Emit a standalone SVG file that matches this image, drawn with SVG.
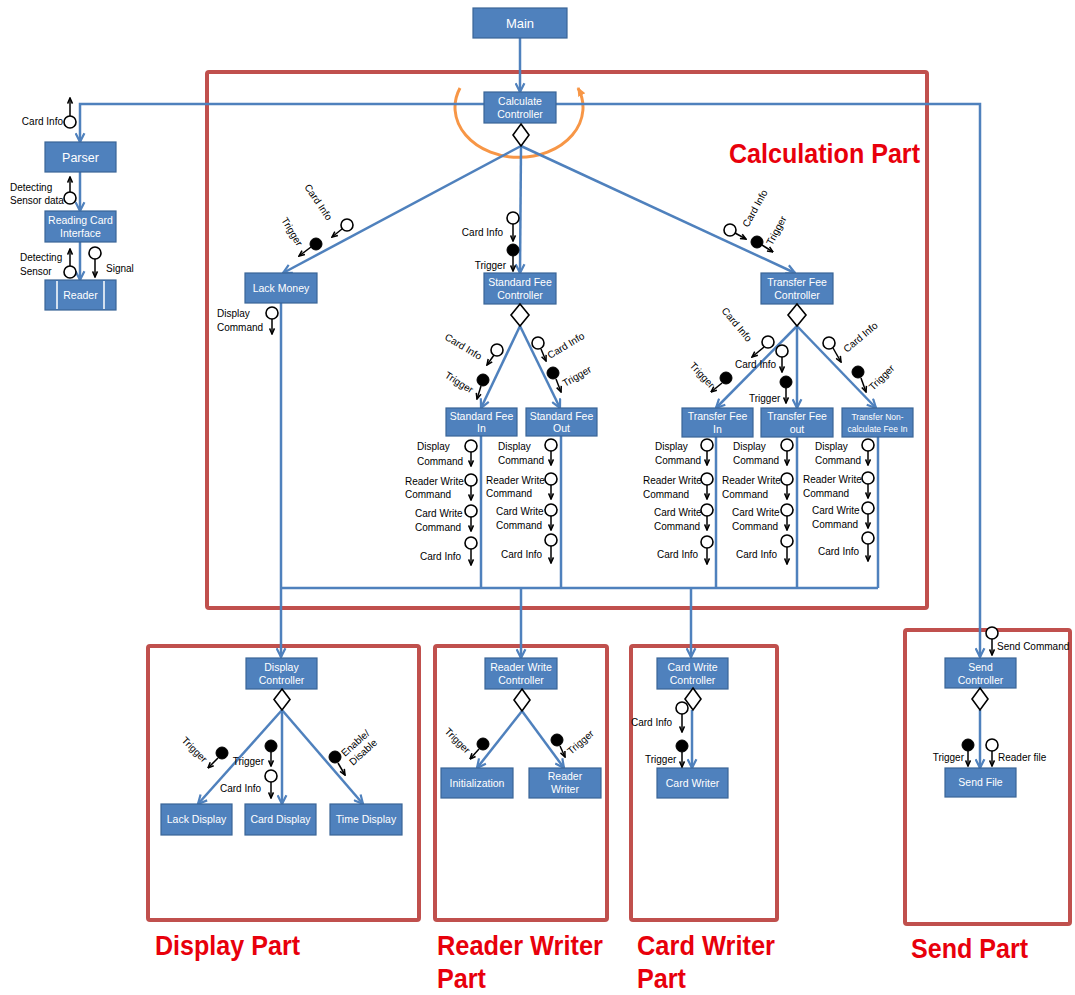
<svg xmlns="http://www.w3.org/2000/svg" width="1075" height="995" viewBox="0 0 1075 995">
  <defs>
    <marker id="ba" viewBox="0 0 10 10" refX="9" refY="5" markerWidth="11" markerHeight="11" markerUnits="userSpaceOnUse" orient="auto">
      <path d="M1,1 L9,5 L1,9" fill="none" stroke="#4F81BD" stroke-width="2"/>
    </marker>
    <marker id="ka" viewBox="0 0 10 10" refX="9" refY="5" markerWidth="7" markerHeight="7" markerUnits="userSpaceOnUse" orient="auto">
      <path d="M1,1.5 L9,5 L1,8.5" fill="none" stroke="#000" stroke-width="2.2"/>
    </marker>
    <marker id="oa" viewBox="0 0 10 10" refX="8" refY="5" markerWidth="10" markerHeight="10" markerUnits="userSpaceOnUse" orient="auto">
      <path d="M0,1 L9,5 L0,9 Z" fill="#F79646"/>
    </marker>
  </defs>
  <style>
    text { font-family: "Liberation Sans", Arial, sans-serif; }
    .node rect { fill: #4F81BD; stroke: #3A6597; stroke-width: 1.2; }
    .nt { fill: #fff; font-size: 10.5px; text-anchor: middle; }
    .lbl { fill: #000; font-size: 10px; }
    .end { text-anchor: end; }
    .flow { fill: none; stroke: #4F81BD; stroke-width: 2.5; }
    .arr { marker-end: url(#ba); }
    .msg { fill: none; stroke: #000; stroke-width: 1.5; marker-end: url(#ka); }
    .oc { fill: #fff; stroke: #000; stroke-width: 1.6; }
    .fc { fill: #000; stroke: #000; stroke-width: 1; }
    .dia { fill: #fff; stroke: #000; stroke-width: 1.6; }
    .part { fill: none; stroke: #C0504D; stroke-width: 4; }
    .ptitle { fill: #E8000B; font-size: 28px; font-weight: bold; }
  </style>
  <rect width="1075" height="995" fill="#fff"/>

  <!-- part frames -->
  <g id="parts">
    <rect class="part" x="207" y="72" width="720" height="536" rx="2"/>
    <rect class="part" x="148" y="646" width="271" height="274" rx="2"/>
    <rect class="part" x="435" y="646" width="172" height="274" rx="2"/>
    <rect class="part" x="631" y="646" width="146" height="274" rx="2"/>
    <rect class="part" x="905" y="630" width="165" height="294" rx="2"/>
    <text class="ptitle" x="729" y="163" textLength="191" lengthAdjust="spacingAndGlyphs">Calculation Part</text>
    <text class="ptitle" x="155" y="955" textLength="145" lengthAdjust="spacingAndGlyphs">Display Part</text>
    <text class="ptitle" x="437" y="955" textLength="166" lengthAdjust="spacingAndGlyphs">Reader Writer</text>
    <text class="ptitle" x="437" y="988" textLength="49" lengthAdjust="spacingAndGlyphs">Part</text>
    <text class="ptitle" x="637" y="955" textLength="138" lengthAdjust="spacingAndGlyphs">Card Writer</text>
    <text class="ptitle" x="637" y="988" textLength="49" lengthAdjust="spacingAndGlyphs">Part</text>
    <text class="ptitle" x="911" y="958" textLength="117" lengthAdjust="spacingAndGlyphs">Send Part</text>
  </g>

  <!-- loop around the calculate controller -->
  <path d="M460,88 A64 50 0 1 0 578,88" fill="none" stroke="#F79646" stroke-width="3" marker-end="url(#oa)"/>

  <!-- connectors -->
  <g id="connectors">
    <path class="flow arr" d="M520,38 V92"/>
    <path class="flow arr" d="M484,104 H80 V142"/>
    <path class="flow arr" d="M556,104 H980 V657"/>
    <path class="flow arr" d="M521,146 L283,273"/>
    <path class="flow arr" d="M521,146 L520,273"/>
    <path class="flow arr" d="M521,146 L795,273"/>
    <path class="flow arr" d="M80,172 V211"/>
    <path class="flow arr" d="M80,242 V280"/>
    <path class="flow arr" d="M520,326 L481,408"/>
    <path class="flow arr" d="M520,326 L560,408"/>
    <path class="flow arr" d="M797,326 L716,408"/>
    <path class="flow arr" d="M797,326 L797,408"/>
    <path class="flow arr" d="M797,326 L876,408"/>
    <path class="flow arr" d="M281,303 V657"/>
    <path class="flow" d="M481,436 V588 M561,436 V588 M716,437 V588 M797,437 V588 M878,437 V588"/>
    <path class="flow" d="M281,588 H878"/>
    <path class="flow arr" d="M521,588 V658"/>
    <path class="flow arr" d="M691,588 V657"/>
    <path class="flow arr" d="M282,710 L198,804"/>
    <path class="flow arr" d="M282,710 L282,804"/>
    <path class="flow arr" d="M282,710 L363,804"/>
    <path class="flow arr" d="M522,711 L477,768"/>
    <path class="flow arr" d="M522,711 L564,768"/>
    <path class="flow arr" d="M692,710 V768"/>
    <path class="flow arr" d="M980,710 V768"/>
  </g>

  <!-- nodes -->
  <g id="main" class="node"><rect x="473" y="8" width="94" height="30"/><text class="nt" x="520" y="28" style="font-size:13px">Main</text></g>
  <g id="calculate-controller" class="node"><rect x="484" y="92" width="72" height="31"/><text class="nt" x="520" y="105">Calculate</text><text class="nt" x="520" y="118">Controller</text></g>
  <g id="parser" class="node"><rect x="45" y="142" width="71" height="30"/><text class="nt" x="80.5" y="162" style="font-size:12.5px">Parser</text></g>
  <g id="reading-card-interface" class="node"><rect x="45" y="211" width="71" height="31"/><text class="nt" x="80.5" y="224">Reading Card</text><text class="nt" x="80.5" y="237">Interface</text></g>
  <g id="reader" class="node"><rect x="45" y="280" width="71" height="30"/><path d="M57,281 V309 M104,281 V309" stroke="#fff" stroke-width="1.5"/><text class="nt" x="80.5" y="299">Reader</text></g>
  <g id="lack-money" class="node"><rect x="245" y="273" width="72" height="30"/><text class="nt" x="281" y="292">Lack Money</text></g>
  <g id="standard-fee-controller" class="node"><rect x="484" y="273" width="72" height="31"/><text class="nt" x="520" y="286">Standard Fee</text><text class="nt" x="520" y="299">Controller</text></g>
  <g id="transfer-fee-controller" class="node"><rect x="761" y="273" width="72" height="31"/><text class="nt" x="797" y="286">Transfer Fee</text><text class="nt" x="797" y="299">Controller</text></g>
  <g id="standard-fee-in" class="node"><rect x="446" y="408" width="71" height="28"/><text class="nt" x="481.5" y="420">Standard Fee</text><text class="nt" x="481.5" y="432">In</text></g>
  <g id="standard-fee-out" class="node"><rect x="526" y="408" width="71" height="28"/><text class="nt" x="561.5" y="420">Standard Fee</text><text class="nt" x="561.5" y="432">Out</text></g>
  <g id="transfer-fee-in" class="node"><rect x="682" y="408" width="71" height="29"/><text class="nt" x="717.5" y="420">Transfer Fee</text><text class="nt" x="717.5" y="433">In</text></g>
  <g id="transfer-fee-out" class="node"><rect x="761" y="408" width="72" height="29"/><text class="nt" x="797" y="420">Transfer Fee</text><text class="nt" x="797" y="433">out</text></g>
  <g id="transfer-non-calculate-fee-in" class="node"><rect x="842" y="408" width="71" height="29"/><text class="nt" x="877.5" y="420" style="font-size:8.5px">Transfer Non-</text><text class="nt" x="877.5" y="432" style="font-size:8.5px">calculate Fee In</text></g>

  <g id="display-controller" class="node"><rect x="246" y="658" width="71" height="31"/><text class="nt" x="281.5" y="671">Display</text><text class="nt" x="281.5" y="684">Controller</text></g>
  <g id="lack-display" class="node"><rect x="161" y="804" width="71" height="31"/><text class="nt" x="196.5" y="823">Lack Display</text></g>
  <g id="card-display" class="node"><rect x="245" y="804" width="71" height="31"/><text class="nt" x="280.5" y="823">Card Display</text></g>
  <g id="time-display" class="node"><rect x="330" y="804" width="72" height="31"/><text class="nt" x="366" y="823">Time Display</text></g>
  <g id="reader-write-controller" class="node"><rect x="485" y="658" width="72" height="31"/><text class="nt" x="521" y="671">Reader Write</text><text class="nt" x="521" y="684">Controller</text></g>
  <g id="initialization" class="node"><rect x="441" y="768" width="72" height="30"/><text class="nt" x="477" y="787">Initialization</text></g>
  <g id="reader-writer" class="node"><rect x="529" y="768" width="72" height="30"/><text class="nt" x="565" y="780">Reader</text><text class="nt" x="565" y="793">Writer</text></g>
  <g id="card-write-controller" class="node"><rect x="657" y="658" width="71" height="31"/><text class="nt" x="692.5" y="671">Card Write</text><text class="nt" x="692.5" y="684">Controller</text></g>
  <g id="card-writer" class="node"><rect x="657" y="768" width="71" height="30"/><text class="nt" x="692.5" y="787">Card Writer</text></g>
  <g id="send-controller" class="node"><rect x="945" y="658" width="71" height="30"/><text class="nt" x="980.5" y="671">Send</text><text class="nt" x="980.5" y="684">Controller</text></g>
  <g id="send-file" class="node"><rect x="945" y="768" width="71" height="29"/><text class="nt" x="980.5" y="786">Send File</text></g>

  <!-- branch diamonds -->
  <g id="diamonds">
    <path class="dia" d="M521,124 L529,135 L521,146 L513,135 Z"/>
    <path class="dia" d="M520,304 L529,315 L520,326 L511,315 Z"/>
    <path class="dia" d="M797,304 L806,315 L797,326 L788,315 Z"/>
    <path class="dia" d="M282,689 L290,699.5 L282,710 L274,699.5 Z"/>
    <path class="dia" d="M522,689 L530,700 L522,711 L514,700 Z"/>
    <path class="dia" d="M693,688 L701,699 L693,710 L685,699 Z"/>
    <path class="dia" d="M980,688 L988,699 L980,710 L972,699 Z"/>
  </g>

  <!-- data flows (lollipops) -->
  <g id="messages">
    <!-- reader side -->
    <circle class="oc" cx="70" cy="122" r="6"/><path class="msg" d="M70,116 V98"/>
    <text class="lbl end" x="63" y="125">Card Info</text>
    <circle class="oc" cx="70" cy="198" r="6"/><path class="msg" d="M70,192 V177"/>
    <text class="lbl" x="10" y="191">Detecting</text><text class="lbl" x="10" y="204">Sensor data</text>
    <circle class="oc" cx="70" cy="272" r="6"/><path class="msg" d="M70,266 V249"/>
    <text class="lbl" x="20" y="261">Detecting</text><text class="lbl" x="20" y="275">Sensor</text>
    <circle class="oc" cx="95" cy="253" r="6"/><path class="msg" d="M95,259 V277"/>
    <text class="lbl" x="106" y="272">Signal</text>

    <!-- calculate controller fan-out -->
    <circle class="oc" cx="347" cy="225" r="6"/><path class="msg" d="M342,229 L332,237"/>
    <text class="lbl" transform="translate(304,187) rotate(56)">Card Info</text>
    <circle class="fc" cx="316" cy="244" r="6"/><path class="msg" d="M311,247 L299,256"/>
    <text class="lbl" transform="translate(281,220) rotate(59)">Trigger</text>

    <circle class="oc" cx="513" cy="218" r="6"/><path class="msg" d="M513,224 V241"/>
    <text class="lbl end" x="503" y="236">Card Info</text>
    <circle class="fc" cx="513" cy="250" r="6"/><path class="msg" d="M513,256 V271"/>
    <text class="lbl end" x="506" y="269">Trigger</text>

    <circle class="oc" cx="730" cy="230" r="6"/><path class="msg" d="M735,233 L746,239"/>
    <text class="lbl" transform="translate(748,228) rotate(-61)">Card Info</text>
    <circle class="fc" cx="757" cy="242" r="6"/><path class="msg" d="M762,245 L773,252"/>
    <text class="lbl" transform="translate(772,246) rotate(-62)">Trigger</text>

    <!-- lack money -->
    <circle class="oc" cx="272" cy="313" r="6"/><path class="msg" d="M272,319 V334"/>
    <text class="lbl" x="217" y="317">Display</text><text class="lbl" x="217" y="331">Command</text>

    <!-- standard fee controller -->
    <circle class="oc" cx="497" cy="350" r="6"/><path class="msg" d="M494,355 L487,365"/>
    <text class="lbl" transform="translate(444,339) rotate(31)">Card Info</text>
    <circle class="fc" cx="483" cy="380" r="6"/><path class="msg" d="M481,386 L477,399"/>
    <text class="lbl" transform="translate(444,377) rotate(32)">Trigger</text>
    <circle class="oc" cx="538" cy="343" r="6"/><path class="msg" d="M541,349 L546,361"/>
    <text class="lbl" transform="translate(550,359) rotate(-31)">Card Info</text>
    <circle class="fc" cx="553" cy="373" r="6"/><path class="msg" d="M556,379 L561,392"/>
    <text class="lbl" transform="translate(565,387) rotate(-30)">Trigger</text>

    <!-- transfer fee controller -->
    <circle class="oc" cx="768" cy="342" r="6"/><path class="msg" d="M764,347 L752,357"/>
    <text class="lbl" transform="translate(721,311) rotate(50)">Card Info</text>
    <circle class="fc" cx="726" cy="378" r="6"/><path class="msg" d="M722,383 L711,392"/>
    <text class="lbl" transform="translate(689,366) rotate(47)">Trigger</text>
    <circle class="oc" cx="782" cy="351" r="6"/><path class="msg" d="M782,357 V372"/>
    <text class="lbl" x="735" y="368">Card Info</text>
    <circle class="fc" cx="786" cy="382" r="6"/><path class="msg" d="M786,388 V403"/>
    <text class="lbl" x="749" y="402">Trigger</text>
    <circle class="oc" cx="829" cy="343" r="6"/><path class="msg" d="M833,348 L841,362"/>
    <text class="lbl" transform="translate(847,353) rotate(-40)">Card Info</text>
    <circle class="fc" cx="858" cy="372" r="6"/><path class="msg" d="M861,378 L866,392"/>
    <text class="lbl" transform="translate(873,391) rotate(-45)">Trigger</text>

    <!-- standard fee in -->
    <circle class="oc" cx="471" cy="446" r="6"/><path class="msg" d="M471,452 V466"/>
    <circle class="oc" cx="471" cy="480" r="6"/><path class="msg" d="M471,486 V500"/>
    <circle class="oc" cx="471" cy="511" r="6"/><path class="msg" d="M471,517 V531"/>
    <circle class="oc" cx="471" cy="543" r="6"/><path class="msg" d="M471,549 V565"/>
    <text class="lbl" x="417" y="450">Display</text><text class="lbl" x="417" y="465">Command</text>
    <text class="lbl" x="405" y="485">Reader Write</text><text class="lbl" x="405" y="498">Command</text>
    <text class="lbl" x="415" y="517">Card Write</text><text class="lbl" x="415" y="531">Command</text>
    <text class="lbl" x="420" y="560">Card Info</text>

    <!-- standard fee out -->
    <circle class="oc" cx="551" cy="445" r="6"/><path class="msg" d="M551,451 V465"/>
    <circle class="oc" cx="551" cy="479" r="6"/><path class="msg" d="M551,485 V499"/>
    <circle class="oc" cx="551" cy="510" r="6"/><path class="msg" d="M551,516 V530"/>
    <circle class="oc" cx="551" cy="540" r="6"/><path class="msg" d="M551,546 V563"/>
    <text class="lbl" x="498" y="450">Display</text><text class="lbl" x="498" y="464">Command</text>
    <text class="lbl" x="486" y="484">Reader Write</text><text class="lbl" x="486" y="497">Command</text>
    <text class="lbl" x="496" y="515">Card Write</text><text class="lbl" x="496" y="529">Command</text>
    <text class="lbl" x="501" y="558">Card Info</text>

    <!-- transfer fee in -->
    <circle class="oc" cx="707" cy="445" r="6"/><path class="msg" d="M707,451 V465"/>
    <circle class="oc" cx="707" cy="479" r="6"/><path class="msg" d="M707,485 V499"/>
    <circle class="oc" cx="707" cy="510" r="6"/><path class="msg" d="M707,516 V530"/>
    <circle class="oc" cx="707" cy="542" r="6"/><path class="msg" d="M707,548 V564"/>
    <text class="lbl" x="655" y="450">Display</text><text class="lbl" x="655" y="464">Command</text>
    <text class="lbl" x="643" y="484">Reader Write</text><text class="lbl" x="643" y="498">Command</text>
    <text class="lbl" x="654" y="516">Card Write</text><text class="lbl" x="654" y="530">Command</text>
    <text class="lbl" x="657" y="558">Card Info</text>

    <!-- transfer fee out -->
    <circle class="oc" cx="787" cy="445" r="6"/><path class="msg" d="M787,451 V465"/>
    <circle class="oc" cx="787" cy="479" r="6"/><path class="msg" d="M787,485 V499"/>
    <circle class="oc" cx="787" cy="510" r="6"/><path class="msg" d="M787,516 V530"/>
    <circle class="oc" cx="787" cy="541" r="6"/><path class="msg" d="M787,547 V564"/>
    <text class="lbl" x="733" y="450">Display</text><text class="lbl" x="733" y="464">Command</text>
    <text class="lbl" x="722" y="484">Reader Write</text><text class="lbl" x="722" y="498">Command</text>
    <text class="lbl" x="732" y="516">Card Write</text><text class="lbl" x="732" y="530">Command</text>
    <text class="lbl" x="736" y="558">Card Info</text>

    <!-- transfer non-calculate fee in -->
    <circle class="oc" cx="868" cy="445" r="6"/><path class="msg" d="M868,451 V465"/>
    <circle class="oc" cx="868" cy="478" r="6"/><path class="msg" d="M868,484 V498"/>
    <circle class="oc" cx="868" cy="508" r="6"/><path class="msg" d="M868,514 V528"/>
    <circle class="oc" cx="868" cy="538" r="6"/><path class="msg" d="M868,544 V561"/>
    <text class="lbl" x="815" y="450">Display</text><text class="lbl" x="815" y="464">Command</text>
    <text class="lbl" x="803" y="483">Reader Write</text><text class="lbl" x="803" y="497">Command</text>
    <text class="lbl" x="812" y="514">Card Write</text><text class="lbl" x="812" y="528">Command</text>
    <text class="lbl" x="818" y="555">Card Info</text>

    <!-- display part -->
    <circle class="fc" cx="222" cy="753" r="6"/><path class="msg" d="M218,758 L208,768"/>
    <text class="lbl" transform="translate(181,741) rotate(45)">Trigger</text>
    <circle class="fc" cx="271" cy="746" r="6"/><path class="msg" d="M271,752 V766"/>
    <text class="lbl end" x="264" y="765">Trigger</text>
    <circle class="oc" cx="271" cy="776" r="6"/><path class="msg" d="M271,782 V798"/>
    <text class="lbl" x="220" y="792">Card Info</text>
    <circle class="fc" cx="335" cy="757" r="6"/><path class="msg" d="M338,763 L345,775"/>
    <g transform="translate(345,757) rotate(-42)"><text class="lbl" x="0" y="0">Enable/</text><text class="lbl" x="0" y="12">Disable</text></g>

    <!-- reader writer part -->
    <circle class="fc" cx="483" cy="744" r="6"/><path class="msg" d="M479,749 L470,759"/>
    <text class="lbl" transform="translate(444,732) rotate(45)">Trigger</text>
    <circle class="fc" cx="557" cy="740" r="6"/><path class="msg" d="M560,746 L565,757"/>
    <text class="lbl" transform="translate(571,755) rotate(-41)">Trigger</text>

    <!-- card writer part -->
    <circle class="oc" cx="682" cy="708" r="6"/><path class="msg" d="M682,714 V732"/>
    <text class="lbl" x="631" y="726">Card Info</text>
    <circle class="fc" cx="682" cy="746" r="6"/><path class="msg" d="M682,752 V767"/>
    <text class="lbl" x="645" y="763">Trigger</text>

    <!-- send part -->
    <circle class="oc" cx="992" cy="633" r="6"/><path class="msg" d="M992,639 V655"/>
    <text class="lbl" x="997" y="650">Send Command</text>
    <circle class="fc" cx="968" cy="745" r="6"/><path class="msg" d="M968,751 V766"/>
    <text class="lbl end" x="964" y="761">Trigger</text>
    <circle class="oc" cx="992" cy="745" r="6"/><path class="msg" d="M992,751 V766"/>
    <text class="lbl" x="998" y="761">Reader file</text>
  </g>
</svg>
